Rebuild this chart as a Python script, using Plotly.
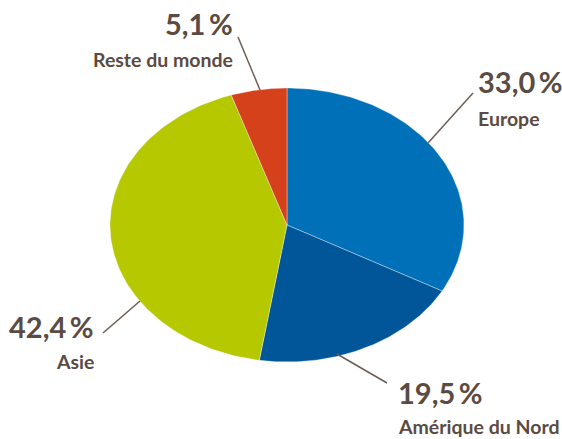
import numpy as np
import plotly.graph_objects as go

# Répartition (%)
regions = ["Europe", "Amérique du Nord", "Asie", "Reste du monde"]
parts = [33.0, 19.5, 42.4, 5.1]
colors = ["#0070b9", "#005699", "#b5c800", "#d5411a"]

TXT = "#5b4b42"
FONT = "Lato"

# ellipse geometry (axis units = pixels)
cx, cy, rx, ry = 287, 225, 177, 137

fig = go.Figure()

total = sum(parts)
start = 0.0
for name, val, col in zip(regions, parts, colors):
    end = start + val / total * 2 * np.pi
    t = np.linspace(start, end, 120)
    xs = np.concatenate([[cx], cx + rx * np.sin(t), [cx]])
    ys = np.concatenate([[cy], cy - ry * np.cos(t), [cy]])
    fig.add_trace(go.Scatter(x=xs, y=ys, fill="toself", fillcolor=col, mode="lines",
                             line=dict(color="rgba(255,255,255,0.6)", width=0.6),
                             name=name, hoverinfo="name", showlegend=False))
    start = end

# labels: pct position, anchor, name y, leader line
label_pos = {
    "Europe": dict(x=476, y=81, xanchor="left", ny=118, line=(428, 143, 473, 93)),
    "Amérique du Nord": dict(x=396, y=392, xanchor="left", ny=426, line=(337, 354, 387, 383)),
    "Asie": dict(x=96, y=326, xanchor="right", ny=361, line=(140, 301, 103, 333)),
    "Reste du monde": dict(x=235, y=23, xanchor="right", ny=59, line=(260, 90, 238, 37)),
}

for name, val in zip(regions, parts):
    p = label_pos[name]
    pct = f"{val:.1f}".replace(".", ",") + "\u2009%"
    fig.add_annotation(x=p["x"], y=p["y"], text=pct, showarrow=False, xanchor=p["xanchor"],
                       yanchor="middle", font=dict(family=FONT, size=29, color=TXT, weight=700))
    fig.add_annotation(x=p["x"], y=p["ny"], text=name, showarrow=False, xanchor=p["xanchor"],
                       yanchor="middle", font=dict(family=FONT, size=19.5, color=TXT, weight=700))
    x0, y0, x1, y1 = p["line"]
    fig.add_shape(type="line", x0=x0, y0=y0, x1=x1, y1=y1, line=dict(color="#6b5e55", width=1.5))

fig.update_xaxes(range=[0, 562], visible=False)
fig.update_yaxes(range=[439, 0], visible=False)
fig.update_layout(width=562, height=439, margin=dict(l=0, r=0, t=0, b=0),
                  plot_bgcolor="white", paper_bgcolor="white")

fig.write_html("out.html", config={"displayModeBar": False},
               post_script="document.body.style.margin='0';")
